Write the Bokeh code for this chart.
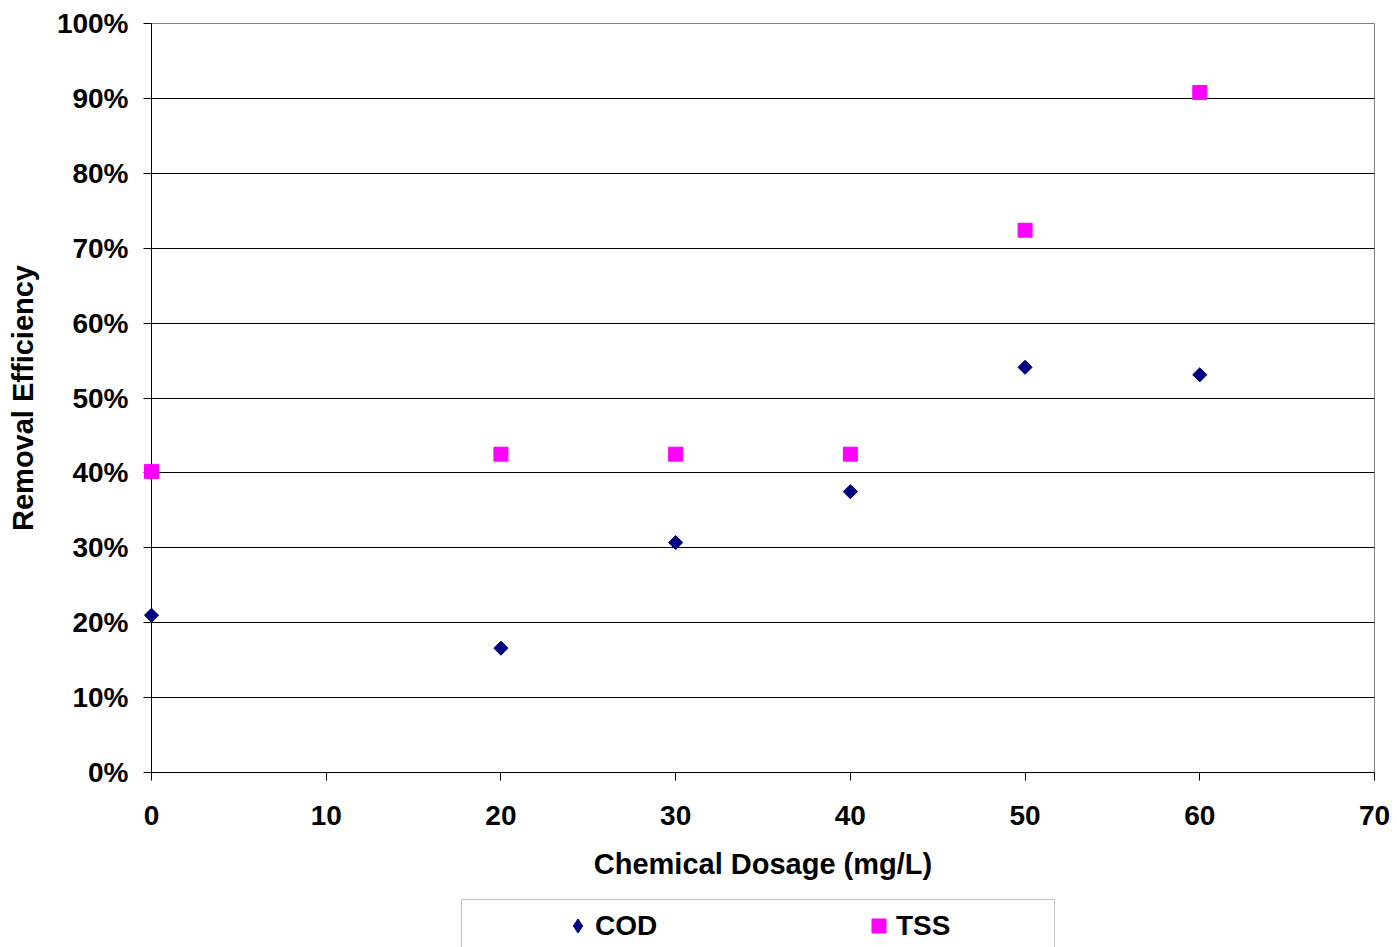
from bokeh.plotting import figure
from bokeh.layouts import column
from bokeh.models import (ColumnDataSource, FixedTicker, PrintfTickFormatter,
                          Legend, LegendItem, BoxAnnotation, Range1d)
from bokeh.embed import file_html
from bokeh.resources import INLINE
import math

# Chemical dosage (mg/L) and removal efficiencies (%)
dosage = [0, 20, 30, 40, 50, 60]
cod_removal = [21.0, 16.6, 30.7, 37.5, 54.1, 53.1]
tss_removal = [40.2, 42.5, 42.5, 42.5, 72.4, 90.8]

x_ticks = [0, 10, 20, 30, 40, 50, 60, 70]
y_ticks = [0, 10, 20, 30, 40, 50, 60, 70, 80, 90, 100]

FONT = "Liberation Sans"
COD_COLOR = "#000080"
TSS_COLOR = "#FF00FF"

W = 1397
H_MAIN = 892
H_LEG = 55

# ---------------- main scatter chart ----------------
p = figure(width=W, height=H_MAIN, output_backend="svg", toolbar_location=None,
           x_range=Range1d(0, 70), y_range=Range1d(0, 100),
           min_border_left=151, min_border_right=23, min_border_top=23,
           min_border_bottom=120)
p.background_fill_color = "white"
p.border_fill_color = "white"
p.outline_line_color = "#808080"
p.outline_line_width = 1

src = ColumnDataSource(dict(x=dosage, cod=cod_removal, tss=tss_removal))
r_cod = p.scatter("x", "cod", source=src, marker="square", angle=math.pi / 4,
                  size=10, fill_color=COD_COLOR, line_color=COD_COLOR,
                  level="overlay")
r_tss = p.scatter("x", "tss", source=src, marker="square", size=14,
                  fill_color=TSS_COLOR, line_color=TSS_COLOR, level="overlay")

for ax in (p.xaxis[0], p.yaxis[0]):
    ax.axis_line_color = "black"
    ax.axis_line_width = 1
    ax.major_tick_line_color = "black"
    ax.major_tick_out = 8
    ax.major_tick_in = 0
    ax.minor_tick_line_color = None
    ax.major_label_text_font = FONT
    ax.major_label_text_font_style = "bold"
    ax.major_label_text_font_size = "28px"
    ax.major_label_text_color = "black"
    ax.axis_label_text_font = FONT
    ax.axis_label_text_font_style = "bold"
    ax.axis_label_text_font_size = "29px"
    ax.axis_label_text_color = "black"

p.xaxis.ticker = FixedTicker(ticks=x_ticks)
p.yaxis.ticker = FixedTicker(ticks=y_ticks)
p.yaxis.formatter = PrintfTickFormatter(format="%d%%")
p.xaxis.axis_label = "Chemical Dosage (mg/L)"
p.yaxis.axis_label = "Removal Efficiency"
p.xaxis.major_label_standoff = 25
p.yaxis.major_label_standoff = 15
p.xaxis.axis_label_standoff = 20
p.yaxis.axis_label_standoff = 15

p.xgrid.grid_line_color = None
p.ygrid.ticker = FixedTicker(ticks=y_ticks[1:-1])
p.ygrid.grid_line_color = "black"
p.ygrid.grid_line_width = 1

# ---------------- legend strip ----------------
# the column aligns this strip's frame with the chart frame (x 151..1374),
# so its x range is expressed in page pixels
leg = figure(width=W, height=H_LEG, output_backend="svg", toolbar_location=None,
             x_range=Range1d(151, 1374), y_range=Range1d(0, H_LEG),
             x_axis_type=None, y_axis_type=None, min_border=0)
leg.outline_line_color = None
leg.background_fill_color = "white"
leg.border_fill_color = "white"

# hidden renderers that only supply the legend swatches
k_cod = leg.scatter("x", "cod", source=src, marker="diamond",
                    fill_color=COD_COLOR, line_color=COD_COLOR, visible=False)
k_tss = leg.scatter("x", "tss", source=src, marker="square",
                    fill_color=TSS_COLOR, line_color=TSS_COLOR, visible=False)

leg.add_layout(BoxAnnotation(left=461, right=1054, top=H_LEG - 7, bottom=-30,
                             fill_color=None, line_color="#333333", line_width=1))

legend = Legend(items=[LegendItem(label="COD", renderers=[k_cod]),
                       LegendItem(label="TSS", renderers=[k_tss])],
                orientation="horizontal", location=(409, 4),
                glyph_width=35, glyph_height=35, label_standoff=0,
                label_width=266, spacing=0, padding=5, margin=0,
                click_policy="none",
                border_line_color=None, background_fill_alpha=0,
                label_text_font=FONT, label_text_font_style="bold",
                label_text_font_size="28px", label_text_color="black")
leg.add_layout(legend)

page = column(p, leg, spacing=0)
open("out.html", "w").write(file_html(page, INLINE))
